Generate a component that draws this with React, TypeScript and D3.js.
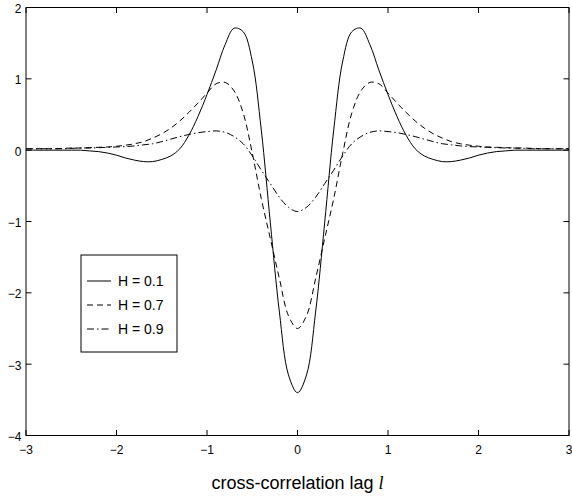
import React from 'react';
import * as d3 from 'd3';

// lag values
const lags = [
  -3.0, -2.9, -2.8, -2.7, -2.6, -2.5, -2.4, -2.3, -2.2, -2.1, -2.0, -1.9, -1.8, -1.7, -1.6, -1.5,
  -1.4, -1.3, -1.2, -1.1, -1.0, -0.9, -0.8, -0.7, -0.6, -0.5, -0.4, -0.3, -0.2, -0.1, 0.0,
  0.1, 0.2, 0.3, 0.4, 0.5, 0.6, 0.7, 0.8, 0.9, 1.0, 1.1, 1.2, 1.3, 1.4, 1.5,
  1.6, 1.7, 1.8, 1.9, 2.0, 2.1, 2.2, 2.3, 2.4, 2.5, 2.6, 2.7, 2.8, 2.9, 3.0,
];

// H = 0.1 (solid)
const h01 = [
  0, 0, 0, 0, 0, 0, 0, -0.01, -0.02, -0.04, -0.07, -0.11, -0.14, -0.16, -0.16, -0.13,
  -0.08, 0.02, 0.21, 0.47, 0.78, 1.12, 1.48, 1.71, 1.66, 1.25, 0.28, -1.02, -2.27, -3.15, -3.40,
  -3.15, -2.27, -1.02, 0.28, 1.25, 1.66, 1.71, 1.48, 1.12, 0.78, 0.47, 0.21, 0.02, -0.08, -0.13,
  -0.16, -0.16, -0.14, -0.11, -0.07, -0.04, -0.02, -0.01, 0, 0, 0, 0, 0, 0, 0,
];

// H = 0.7 (dashed)
const h07 = [
  0.02, 0.02, 0.02, 0.02, 0.025, 0.03, 0.03, 0.035, 0.04, 0.045, 0.055, 0.07, 0.09, 0.12, 0.17, 0.23,
  0.31, 0.41, 0.53, 0.66, 0.80, 0.93, 0.95, 0.83, 0.52, -0.04, -0.68, -1.24, -1.80, -2.32, -2.50,
  -2.32, -1.80, -1.24, -0.68, -0.04, 0.52, 0.83, 0.95, 0.93, 0.80, 0.66, 0.53, 0.41, 0.31, 0.23,
  0.17, 0.12, 0.09, 0.07, 0.055, 0.045, 0.04, 0.035, 0.03, 0.03, 0.025, 0.02, 0.02, 0.02, 0.02,
];

// H = 0.9 (dash-dot)
const h09 = [
  0.02, 0.02, 0.02, 0.02, 0.02, 0.025, 0.03, 0.03, 0.035, 0.04, 0.045, 0.05, 0.06, 0.075, 0.09, 0.12,
  0.155, 0.19, 0.22, 0.245, 0.26, 0.27, 0.25, 0.19, 0.09, -0.08, -0.28, -0.47, -0.66, -0.80, -0.86,
  -0.80, -0.66, -0.47, -0.28, -0.08, 0.09, 0.19, 0.25, 0.27, 0.26, 0.245, 0.22, 0.19, 0.155, 0.12,
  0.09, 0.075, 0.06, 0.05, 0.045, 0.04, 0.035, 0.03, 0.03, 0.025, 0.02, 0.02, 0.02, 0.02, 0.02,
];

const xTicks = [-3, -2, -1, 0, 1, 2, 3];
const yTicks = [-4, -3, -2, -1, 0, 1, 2];

const series = [
  { label: 'H = 0.1', values: h01, dash: 'none' },
  { label: 'H = 0.7', values: h07, dash: '6,4' },
  { label: 'H = 0.9', values: h09, dash: '7,3,1.5,3' },
];

const W = 572;
const H = 499;
const font = 'Liberation Sans, Arial, Helvetica, sans-serif';

const fmt = (t: number) => (t < 0 ? '\u2212' + Math.abs(t) : String(t));

export default function App() {
  const left = 26, right = 569, top = 7.5, bottom = 435.5;
  const x = d3.scaleLinear().domain([-3, 3]).range([left, right]);
  const y = d3.scaleLinear().domain([-4, 2]).range([bottom, top]);
  const tick = 5.5;

  const line = d3.line<number>()
    .x((_, i) => x(lags[i]))
    .y(d => y(d))
    .curve(d3.curveCatmullRom.alpha(0.5));

  // legend box
  const lg = { x: 81, y: 255, w: 96, h: 97 };

  return (
    <div style={{ position: 'absolute', left: 0, top: 0 }}>
      <svg width={W} height={H} style={{ display: 'block', background: '#fff' }}>
        <rect x={0} y={0} width={W} height={H} fill="#fff" />
        <defs>
          <clipPath id="clip">
            <rect x={left} y={top} width={right - left} height={bottom - top} />
          </clipPath>
        </defs>
        <g clipPath="url(#clip)">
          {series.map(s => (
            <path key={s.label} d={line(s.values) || ''} fill="none" stroke="#000"
              strokeWidth={1} strokeDasharray={s.dash} />
          ))}
        </g>

        {/* axes box */}
        <rect x={left} y={top} width={right - left} height={bottom - top} fill="none" stroke="#000" strokeWidth={1} />

        {xTicks.map(t => (
          <g key={'x' + t}>
            <line x1={x(t)} x2={x(t)} y1={bottom} y2={bottom - tick} stroke="#000" />
            <line x1={x(t)} x2={x(t)} y1={top} y2={top + tick} stroke="#000" />
            <text x={x(t)} y={453.5} textAnchor="middle" fontFamily={font} fontSize={12}>
              {fmt(t)}
            </text>
          </g>
        ))}
        {yTicks.map(t => (
          <g key={'y' + t}>
            <line x1={left} x2={left + tick} y1={y(t)} y2={y(t)} stroke="#000" />
            <line x1={right} x2={right - tick} y1={y(t)} y2={y(t)} stroke="#000" />
            <text x={21.5} y={y(t) + 5.5} textAnchor="end" fontFamily={font} fontSize={12}>
              {fmt(t)}
            </text>
          </g>
        ))}

        <text x={(left + right) / 2} y={489} textAnchor="middle" fontFamily={font} fontSize={18}>
          cross-correlation lag <tspan fontFamily="Liberation Serif, DejaVu Serif, serif" fontStyle="italic">l</tspan>
        </text>

        {/* legend */}
        <rect x={lg.x} y={lg.y} width={lg.w} height={lg.h} fill="#fff" stroke="#000" strokeWidth={1} />
        {series.map((s, i) => {
          const ry = 281 + i * 24;
          return (
            <g key={'lg' + s.label}>
              <line x1={87} x2={111} y1={ry} y2={ry} stroke="#000" strokeWidth={1} strokeDasharray={s.dash} />
              <text x={118} y={ry + 5} fontFamily={font} fontSize={14}>{s.label}</text>
            </g>
          );
        })}
      </svg>
    </div>
  );
}
